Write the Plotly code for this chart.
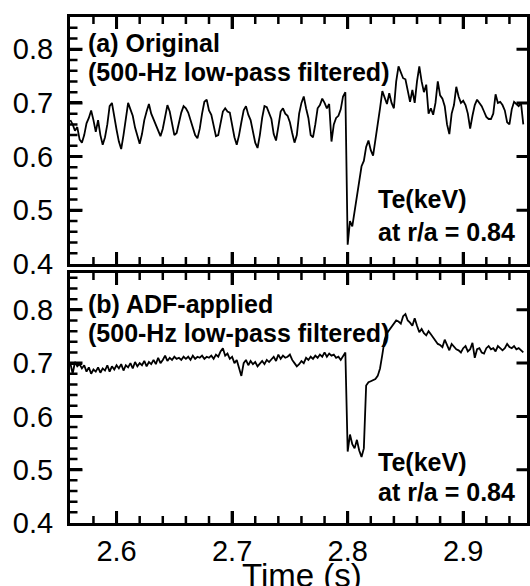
import plotly.graph_objects as go

t_start = 2.560
t_step = 0.002

# (a) Original Te (keV), one row = 0.02 s
te_original = [
    0.668, 0.660, 0.648, 0.655, 0.632, 0.626, 0.640, 0.662, 0.672, 0.686,
    0.668, 0.646, 0.668, 0.640, 0.622, 0.636, 0.660, 0.694, 0.700, 0.672,
    0.650, 0.628, 0.614, 0.640, 0.672, 0.700, 0.688, 0.676, 0.654, 0.636,
    0.624, 0.642, 0.668, 0.684, 0.698, 0.680, 0.670, 0.660, 0.648, 0.638,
    0.652, 0.676, 0.696, 0.684, 0.664, 0.640, 0.644, 0.664, 0.682, 0.694,
    0.690, 0.682, 0.668, 0.650, 0.640, 0.634, 0.652, 0.680, 0.702, 0.706,
    0.686, 0.678, 0.656, 0.638, 0.640, 0.660, 0.684, 0.690, 0.684, 0.682,
    0.660, 0.636, 0.622, 0.640, 0.664, 0.686, 0.694, 0.678, 0.668, 0.648,
    0.626, 0.616, 0.640, 0.672, 0.694, 0.692, 0.682, 0.670, 0.642, 0.630,
    0.656, 0.684, 0.690, 0.680, 0.676, 0.664, 0.644, 0.626, 0.640, 0.680,
    0.700, 0.712, 0.690, 0.672, 0.640, 0.636, 0.660, 0.690, 0.696, 0.708,
    0.700, 0.690, 0.698, 0.628, 0.660, 0.672, 0.676, 0.688, 0.712, 0.720,
    0.436, 0.480, 0.470, 0.500, 0.528, 0.560, 0.582, 0.592, 0.618, 0.630,
    0.612, 0.602, 0.630, 0.656, 0.690, 0.722, 0.710, 0.698, 0.718, 0.700,
    0.690, 0.740, 0.768, 0.758, 0.746, 0.744, 0.720, 0.702, 0.724, 0.700,
    0.740, 0.768, 0.740, 0.720, 0.734, 0.680, 0.690, 0.678, 0.700, 0.740,
    0.714, 0.708, 0.694, 0.660, 0.642, 0.680, 0.696, 0.730, 0.712, 0.700,
    0.704, 0.696, 0.680, 0.652, 0.676, 0.696, 0.706, 0.700, 0.694, 0.684,
    0.674, 0.670, 0.670, 0.680, 0.716, 0.700, 0.702, 0.696, 0.686, 0.664,
    0.660, 0.688, 0.702, 0.698, 0.694, 0.700, 0.660,
]

# (b) ADF-applied Te (keV)
te_adf = [
    0.700, 0.680, 0.702, 0.694, 0.698, 0.690, 0.696, 0.684, 0.692, 0.680,
    0.688, 0.684, 0.692, 0.682, 0.690, 0.686, 0.696, 0.684, 0.694, 0.688,
    0.696, 0.690, 0.698, 0.686, 0.696, 0.692, 0.700, 0.690, 0.702, 0.694,
    0.700, 0.696, 0.704, 0.694, 0.702, 0.698, 0.706, 0.698, 0.710, 0.700,
    0.706, 0.714, 0.704, 0.710, 0.706, 0.712, 0.708, 0.710, 0.706, 0.712,
    0.708, 0.712, 0.706, 0.714, 0.708, 0.712, 0.710, 0.714, 0.708, 0.712,
    0.710, 0.714, 0.708, 0.716, 0.712, 0.722, 0.728, 0.714, 0.718, 0.708,
    0.712, 0.700, 0.706, 0.690, 0.676, 0.700, 0.706, 0.696, 0.704, 0.698,
    0.702, 0.694, 0.700, 0.704, 0.698, 0.706, 0.702, 0.708, 0.712, 0.704,
    0.716, 0.708, 0.714, 0.710, 0.712, 0.716, 0.706, 0.700, 0.694, 0.698,
    0.704, 0.700, 0.710, 0.706, 0.712, 0.708, 0.714, 0.710, 0.716, 0.712,
    0.720, 0.712, 0.718, 0.714, 0.716, 0.710, 0.712, 0.706, 0.714, 0.720,
    0.534, 0.566, 0.548, 0.540, 0.556, 0.536, 0.524, 0.540, 0.658, 0.664,
    0.666, 0.668, 0.670, 0.676, 0.690, 0.716, 0.744, 0.756, 0.762, 0.770,
    0.776, 0.780, 0.778, 0.774, 0.788, 0.792, 0.780, 0.776, 0.770, 0.784,
    0.770, 0.758, 0.764, 0.756, 0.752, 0.760, 0.754, 0.748, 0.740, 0.736,
    0.734, 0.730, 0.744, 0.732, 0.724, 0.736, 0.730, 0.726, 0.724, 0.720,
    0.728, 0.732, 0.722, 0.726, 0.738, 0.710, 0.726, 0.728, 0.720, 0.718,
    0.728, 0.732, 0.726, 0.728, 0.722, 0.732, 0.728, 0.724, 0.728, 0.736,
    0.730, 0.728, 0.732, 0.726, 0.728, 0.724, 0.720,
]

x_ticks = [2.6, 2.7, 2.8, 2.9]          # labelled major ticks
y_ticks = [0.4, 0.5, 0.6, 0.7, 0.8]
x_minor_step = 0.02
y_minor_step = 0.02

time_a = [round(t_start + i * t_step, 4) for i in range(len(te_original))]
time_b = [round(t_start + i * t_step, 4) for i in range(len(te_adf))]

FONT = "Liberation Sans, Arial, sans-serif"

W, H = 530, 586
M = dict(l=70, r=0, t=17, b=63)

x_range = [2.5597, 2.9552]
top_dom = [0.5119, 1.0]
bot_dom = [0.0, 0.494]
top_rng = [0.4, 0.860]
bot_rng = [0.4, 0.869]

fig = go.Figure()
fig.add_trace(go.Scatter(x=time_a, y=te_original, mode="lines",
                         line=dict(color="black", width=1.8),
                         xaxis="x", yaxis="y", showlegend=False, hoverinfo="skip"))
fig.add_trace(go.Scatter(x=time_b, y=te_adf, mode="lines",
                         line=dict(color="black", width=1.8),
                         xaxis="x2", yaxis="y2", showlegend=False, hoverinfo="skip"))

common_x = dict(
    range=x_range, showline=True, linewidth=3, linecolor="black", mirror="ticks",
    tickmode="linear", tick0=x_ticks[0], dtick=round(x_ticks[1] - x_ticks[0], 3),
    ticks="inside", ticklen=12, tickwidth=3, tickcolor="black",
    showgrid=False, zeroline=False,
    tickfont=dict(family=FONT, size=29, color="black"),
)
common_y = dict(
    showline=True, linewidth=3, linecolor="black", mirror=True,
    tickmode="linear", tick0=y_ticks[0], dtick=round(y_ticks[1] - y_ticks[0], 3),
    ticks="inside", ticklen=12, tickwidth=3, tickcolor="black",
    showgrid=False, zeroline=False, tickformat=".1f", ticksuffix=" ",
    tickfont=dict(family=FONT, size=29, color="black"),
)

fig.update_layout(
    width=W, height=H, margin=M,
    paper_bgcolor="white", plot_bgcolor="white",
    xaxis=dict(common_x, anchor="y", showticklabels=False),
    xaxis2=dict(common_x, anchor="y2", matches="x", showticklabels=True,
                tickformat=".1f"),
    yaxis=dict(common_y, domain=top_dom, range=top_rng, anchor="x"),
    yaxis2=dict(common_y, domain=bot_dom, range=bot_rng, anchor="x2"),
)


def frange(a, b, step):
    out, k = [], 0
    while a + k * step <= b + 1e-9:
        out.append(round(a + k * step, 4))
        k += 1
    return out


def is_major(v, majors):
    return any(abs(v - m) < 1e-6 for m in majors)


# inward tick marks drawn as short arrow-less annotation lines (pixel lengths)
x_minor = [v for v in frange(2.56, 2.95, x_minor_step)
           if not is_major(v, x_ticks) and x_range[0] + 0.004 < v < x_range[1] - 0.004]


def tick(xref, yref, x, y, ax, ay, w):
    fig.add_annotation(text=" ", font=dict(size=1), x=x, y=y, xref=xref, yref=yref,
                       showarrow=True, arrowhead=0, arrowwidth=w, arrowcolor="black",
                       ax=ax, ay=ay, axref="pixel", ayref="pixel", standoff=0,
                       startstandoff=0, borderpad=0)


for xa, ya, rng in (("x", "y", top_rng), ("x2", "y2", bot_rng)):
    y_minor = [v for v in frange(0.42, 0.86, y_minor_step)
               if not is_major(v, y_ticks) and v < rng[1] - 0.004]
    for v, ln, w in [(m, 13, 3) for m in x_ticks] + [(m, 8, 2.5) for m in x_minor]:
        tick(xa, ya + " domain", v, 0, 0, -ln, w)
        tick(xa, ya + " domain", v, 1, 0, ln, w)
    for v, ln, w in [(m, 13, 3) for m in y_ticks[1:]] + [(m, 8, 2.5) for m in y_minor]:
        tick(xa + " domain", ya, 0, v, ln, 0, w)
    for v in y_ticks[1:]:
        tick(xa + " domain", ya, 1, v, -11, 0, 3)

# x-axis title
fig.add_annotation(text="Time (s)", x=0.508, y=-0.104, xref="paper", yref="paper",
                   xanchor="center", yanchor="middle", showarrow=False,
                   font=dict(family=FONT, size=33, color="black"))

ann_font = dict(family=FONT, size=25, color="black")
labels_a = [("<b>(a) Original</b>", 0.035, 0.893),
            ("<b>(500-Hz low-pass filtered)</b>", 0.035, 0.776),
            ("<b>Te(keV)</b>", 0.670, 0.262),
            ("<b>at r/a = 0.84</b>", 0.670, 0.130)]
labels_b = [("<b>(b) ADF-applied</b>", 0.035, 0.878),
            ("<b>(500-Hz low-pass filtered)</b>", 0.035, 0.760),
            ("<b>Te(keV)</b>", 0.670, 0.243),
            ("<b>at r/a = 0.84</b>", 0.670, 0.124)]
for txt, xf, yf in labels_a:
    fig.add_annotation(text=txt, x=xf, y=yf, xref="x domain", yref="y domain",
                       xanchor="left", yanchor="middle", showarrow=False,
                       font=ann_font)
for txt, xf, yf in labels_b:
    fig.add_annotation(text=txt, x=xf, y=yf, xref="x2 domain", yref="y2 domain",
                       xanchor="left", yanchor="middle", showarrow=False,
                       font=ann_font)

fig.write_html("out.html", config={"displayModeBar": False},
               post_script="document.body.style.margin='0';"
                           "document.body.style.overflow='hidden';")
